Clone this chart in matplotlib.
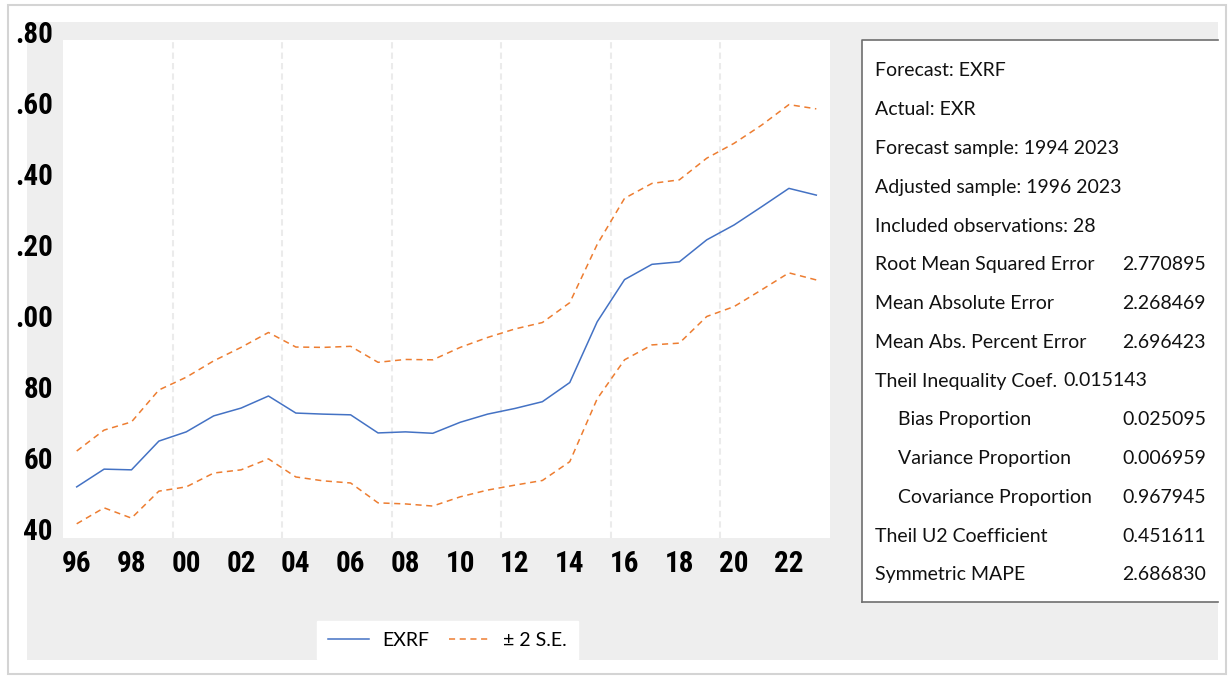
import numpy as np
import matplotlib
matplotlib.use("Agg")
import matplotlib.pyplot as plt
from matplotlib.patches import Rectangle
from matplotlib.lines import Line2D
from matplotlib.font_manager import FontProperties, findfont

W, H = 1231, 677

years = np.arange(1996, 2024)
exrf = [52.7, 57.7, 57.5, 65.6, 68.2, 72.7, 74.9, 78.3, 73.5, 73.2, 73.0, 67.9, 68.2, 67.8,
        70.9, 73.2, 74.8, 76.7, 82.1, 99.2, 111.1, 115.4, 116.1, 122.3, 126.5, 131.6, 136.8, 134.9]
upper = [62.8, 68.7, 71.0, 80.0, 83.6, 88.2, 92.0, 96.2, 92.1, 92.0, 92.3, 87.8, 88.6, 88.5,
         92.0, 94.8, 97.2, 99.0, 104.6, 121.0, 134.0, 138.2, 139.2, 145.3, 149.5, 154.6, 160.4, 159.2]
lower = [42.3, 46.8, 43.9, 51.5, 52.7, 56.6, 57.5, 60.6, 55.5, 54.4, 53.8, 48.2, 47.9, 47.3,
         49.9, 51.8, 53.2, 54.5, 59.8, 77.5, 88.5, 92.7, 93.2, 100.7, 103.5, 108.2, 113.0, 111.0]

ytick_vals = [40, 60, 80, 100, 120, 140, 160, 180]
ytick_labels = ["40", "60", "80", ".00", ".20", ".40", ".60", ".80"]
xtick_years = list(range(1996, 2024, 2))
xtick_labels = [f"{y % 100:02d}" for y in xtick_years]

stat_names = ["Forecast: EXRF", "Actual: EXR", "Forecast sample: 1994 2023",
              "Adjusted sample: 1996 2023", "Included observations: 28",
              "Root Mean Squared Error", "Mean Absolute Error", "Mean Abs. Percent Error",
              "Theil Inequality Coef.", "Bias Proportion", "Variance Proportion",
              "Covariance Proportion", "Theil U2 Coefficient", "Symmetric MAPE"]
stat_values = ["", "", "", "", "", "2.770895", "2.268469", "2.696423", "0.015143",
               "0.025095", "0.006959", "0.967945", "0.451611", "2.686830"]
indented = {"Bias Proportion", "Variance Proportion", "Covariance Proportion"}

BLUE = "#4472C4"
ORANGE = "#ED7D31"
txt_font = ["Lato", "DejaVu Sans"]


def first_font(names, **kw):
    for name in names:
        try:
            findfont(FontProperties(family=name, **kw), fallback_to_default=False)
            return name
        except ValueError:
            continue
    return None


# narrow bold face for the axis numbers, if one is around
narrow = first_font(["Liberation Sans Narrow", "Roboto Condensed", "Open Sans Condensed"],
                    weight="bold")
if narrow:
    num_kw = dict(family=narrow, fontweight="bold")
else:
    num_kw = dict(family="DejaVu Sans", fontweight="bold", fontstretch="condensed")

fig = plt.figure(figsize=(W / 100, H / 100), dpi=100)
fig.patch.set_facecolor("white")

# pixel-space backdrop: frame, grey panel, stats box
bg = fig.add_axes([0, 0, 1, 1], zorder=0)
bg.set_xlim(0, W)
bg.set_ylim(H, 0)
bg.axis("off")
bg.add_patch(Rectangle((8, 5), 1218, 669, facecolor="none", edgecolor="#D4D4D4", lw=1.5))
bg.add_patch(Rectangle((27, 22), 1191, 638, facecolor="#EEEEEE", edgecolor="none"))
bg.add_patch(Rectangle((862, 40), 356, 562, facecolor="white", edgecolor="none"))
bg.plot([862, 862, 1218], [602, 40, 40], color="#6E6E6E", lw=1.2)
bg.plot([862, 1218], [602, 602], color="#6E6E6E", lw=1.2)

for i, (name, val) in enumerate(zip(stat_names, stat_values)):
    yb = 76.5 + 38.75 * i
    x0 = 898 if name in indented else 875
    bg.text(x0, yb, name, fontsize=14, family=txt_font, va="baseline", ha="left", color="#111111")
    if name == "Theil Inequality Coef.":
        bg.text(1063, yb, val, fontsize=14, family=txt_font, va="baseline", ha="left", color="#111111")
    elif val:
        bg.text(1206, yb, val, fontsize=14, family=txt_font, va="baseline", ha="right", color="#111111")

# main forecast plot
ax = fig.add_axes([63 / W, 1 - 538 / H, (830 - 63) / W, (538 - 40) / H], zorder=1)
ax.set_facecolor("white")
for s in ax.spines.values():
    s.set_visible(False)

for xg in np.arange(1999.5, 2023, 4):
    ax.axvline(xg, color="#EBEBEB", lw=1.5, ls=(0, (3, 2)), zorder=0)

ax.plot(years, exrf, color=BLUE, lw=1.1, label="EXRF")
ax.plot(years, upper, color=ORANGE, lw=1.1, ls=(0, (4, 3)), label="± 2 S.E.")
ax.plot(years, lower, color=ORANGE, lw=1.1, ls=(0, (4, 3)))

ax.set_xlim(1995.5, 2023.5)
ax.set_ylim(38.3, 178.6)

ax.set_xticks(xtick_years)
ax.set_xticklabels(xtick_labels)
ax.tick_params(axis="x", length=0, pad=9)
for lab in ax.get_xticklabels():
    lab.set(fontsize=21, **num_kw)

ax.set_yticks([])
for v, lab in zip(ytick_vals, ytick_labels):
    ax.text(-10 / 767, v, lab, transform=ax.get_yaxis_transform(), ha="right", va="center",
            fontsize=21, clip_on=False, **num_kw)

handles = [Line2D([], [], color=BLUE, lw=1.1),
           Line2D([], [], color=ORANGE, lw=1.1, ls=(0, (4, 3)))]
leg = fig.legend(handles, ["EXRF", "± 2 S.E."], loc="center",
                 bbox_to_anchor=(447.5 / W, 1 - 640 / H), ncol=2, frameon=True,
                 fancybox=False, framealpha=1, edgecolor="white", facecolor="white",
                 prop={"family": txt_font, "size": 14}, handlelength=2.1,
                 handletextpad=0.7, columnspacing=1.0, borderpad=0.55)

fig.savefig("out.png", dpi=100)
